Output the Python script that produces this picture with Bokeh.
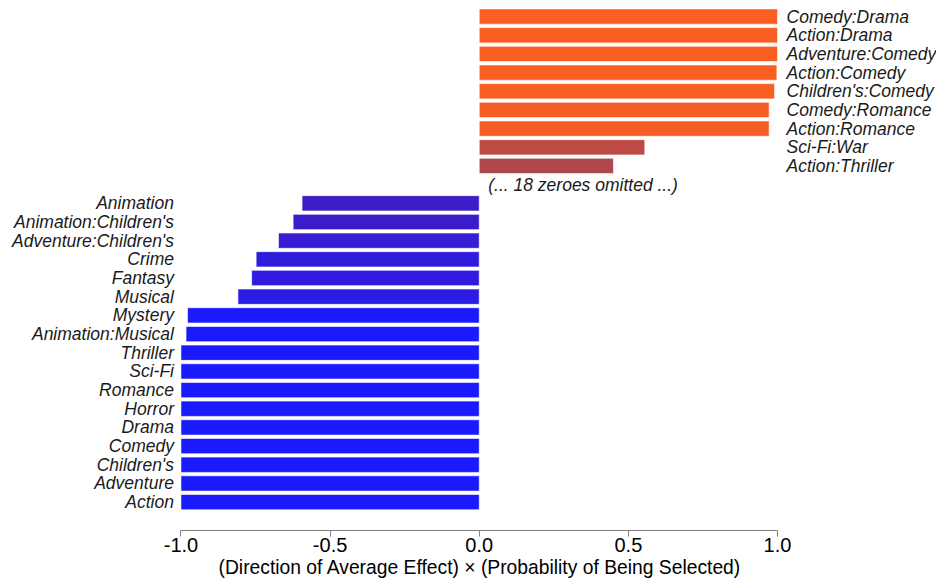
from bokeh.plotting import figure
from bokeh.models import ColumnDataSource, Range1d, FixedTicker, PrintfTickFormatter, Title
from bokeh.core.properties import value
from bokeh.embed import file_html
from bokeh.resources import INLINE

# Genres / genre pairs with a positive effect (top block)
pos_labels = ["Comedy:Drama", "Action:Drama", "Adventure:Comedy", "Action:Comedy",
              "Children's:Comedy", "Comedy:Romance", "Action:Romance", "Sci-Fi:War",
              "Action:Thriller"]
pos_values = [1.0, 1.0, 1.0, 0.998, 0.99, 0.972, 0.972, 0.555, 0.45]

# Genres / genre pairs with a negative effect (bottom block)
neg_labels = ["Animation", "Animation:Children's", "Adventure:Children's", "Crime",
              "Fantasy", "Musical", "Mystery", "Animation:Musical", "Thriller", "Sci-Fi",
              "Romance", "Horror", "Drama", "Comedy", "Children's", "Adventure", "Action"]
neg_values = [-0.594, -0.624, -0.673, -0.748, -0.763, -0.809, -0.978, -0.983, -1.0, -1.0,
              -1.0, -1.0, -1.0, -1.0, -1.0, -1.0, -1.0]

omitted_note = "(... 18 zeroes omitted ...)"

x_ticks = [-1.0, -0.5, 0.0, 0.5, 1.0]
x_title = "(Direction of Average Effect) \u00d7 (Probability of Being Selected)"

FONT = "Liberation Sans"

# diverging colour ramp: value -> colour
stops = [(-1.0, (26, 26, 255)), (-0.6, (60, 28, 200)),
         (0.45, (176, 71, 74)), (1.0, (250, 94, 35))]


def ramp(v):
    for (a, ca), (b, cb) in zip(stops[:-1], stops[1:]):
        if v <= b or b == stops[-1][0]:
            t = min(max((v - a) / (b - a), 0.0), 1.0)
            c = [round(ca[k] + t * (cb[k] - ca[k])) for k in range(3)]
            return "#%02x%02x%02x" % tuple(c)


# row layout: positives, one row for the note, then negatives
n_pos = len(pos_labels)
pos_rows = list(range(n_pos))
note_row = n_pos
neg_rows = [note_row + 1 + i for i in range(len(neg_labels))]

pos_src = ColumnDataSource(dict(
    y=pos_rows, right=pos_values, label=pos_labels,
    color=[ramp(v) for v in pos_values], lx=[x_ticks[-1]] * n_pos))
neg_src = ColumnDataSource(dict(
    y=neg_rows, left=neg_values, label=neg_labels,
    color=[ramp(v) for v in neg_values], lx=[x_ticks[0]] * len(neg_labels)))

p = figure(width=936, height=580, output_backend="svg", toolbar_location=None,
           x_range=Range1d(-1.605, 1.533), y_range=Range1d(27.52, -0.86),
           y_axis_location=None, min_border=0, min_border_bottom=50,
           outline_line_color=None, background_fill_color="white",
           border_fill_color="white")
p.grid.visible = False

bar_h = 0.82
p.hbar(y="y", left=0, right="right", height=bar_h, source=pos_src,
       fill_color="color", line_color="white", line_alpha=0.6, line_width=1)
p.hbar(y="y", left="left", right=0, height=bar_h, source=neg_src,
       fill_color="color", line_color="white", line_alpha=0.6, line_width=1)

text_style = dict(text_font=value(FONT), text_font_style="italic",
                  text_font_size="17.5px", text_color="#1a1a1a",
                  text_baseline="middle")
p.text(x="lx", y="y", text="label", source=pos_src, x_offset=9,
       text_align="left", **text_style)
p.text(x="lx", y="y", text="label", source=neg_src, x_offset=-7,
       text_align="right", **text_style)
p.text(x=[0.0], y=[note_row], text=[omitted_note], x_offset=9,
       text_align="left", **text_style)

ax = p.xaxis[0]
ax.bounds = (x_ticks[0], x_ticks[-1])
ax.ticker = FixedTicker(ticks=x_ticks, minor_ticks=[])
ax.formatter = PrintfTickFormatter(format="%.1f")
ax.axis_line_color = "#808080"
ax.major_tick_line_color = "#808080"
ax.major_tick_in = 0
ax.major_tick_out = 6
ax.minor_tick_line_color = None
ax.major_label_standoff = 1
ax.major_label_text_font = FONT
ax.major_label_text_font_size = "20px"
ax.major_label_text_color = "#000000"

# axis title below the tick labels, set under the zero point of the axis
p.add_layout(Title(text=x_title, align="left", offset=218, standoff=0,
                   text_font=FONT, text_font_size="19.3px", text_font_style="normal",
                   text_color="#000000"), "below")

open("out.html", "w").write(file_html(p, INLINE))
